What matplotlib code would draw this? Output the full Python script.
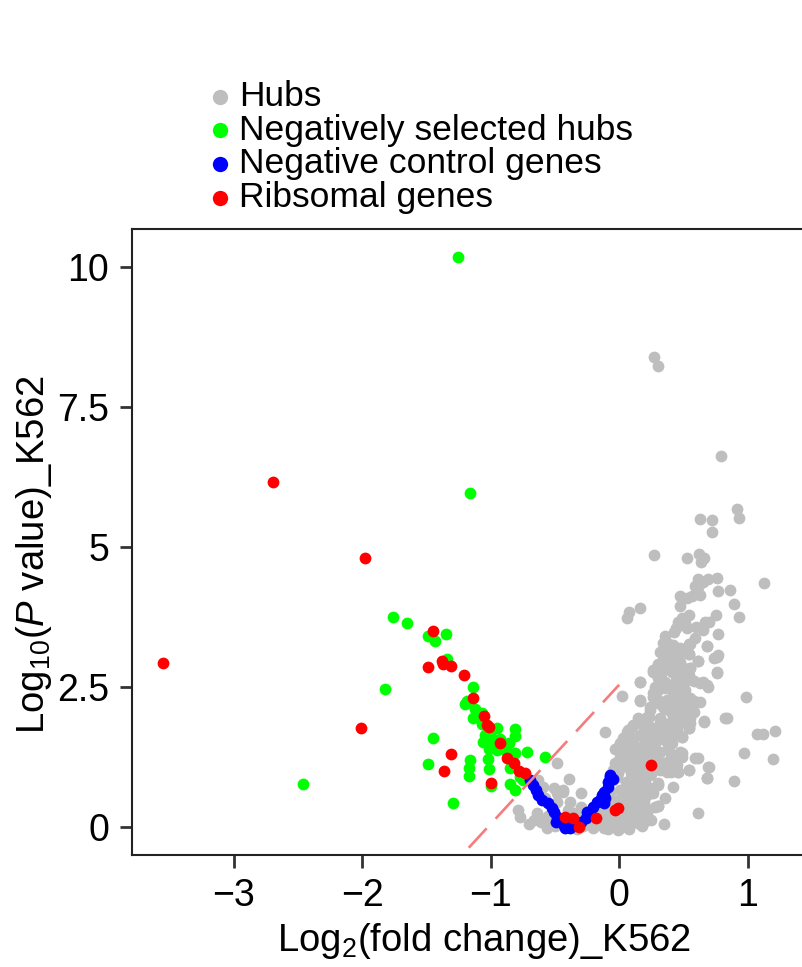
import numpy as np
import matplotlib
matplotlib.use("Agg")
import matplotlib.pyplot as plt

plt.rcParams['font.family'] = ['Liberation Sans', 'DejaVu Sans']
plt.rcParams['mathtext.fontset'] = 'custom'
plt.rcParams['mathtext.rm'] = 'Liberation Sans'
plt.rcParams['mathtext.it'] = 'Liberation Sans:italic'
plt.rcParams['mathtext.default'] = 'regular'

# hubs (grey), (log2 fold change, log10 p value)
hubs = [
    (0.27, 8.39), (0.30, 8.23), (0.79, 6.63), (0.92, 5.68), (0.93, 5.52), (0.63, 5.50),
    (0.72, 5.48), (0.72, 5.27), (0.27, 4.86), (0.53, 4.80), (0.62, 4.88), (0.66, 4.80),
    (0.64, 4.73), (1.13, 4.36), (0.76, 4.45), (0.61, 4.43), (0.69, 4.43), (0.65, 4.38),
    (0.61, 4.29), (0.59, 4.30), (0.77, 4.21), (0.86, 4.23), (0.63, 4.14), (0.47, 4.13),
    (0.53, 4.09), (0.57, 4.13), (0.47, 3.95), (0.89, 3.98), (0.16, 3.91), (0.08, 3.84),
    (0.06, 3.73), (0.75, 3.79), (0.93, 3.75), (0.54, 3.79), (0.49, 3.73), (0.46, 3.66),
    (0.51, 3.64), (0.44, 3.55), (0.53, 3.55), (0.60, 3.57), (0.67, 3.66), (0.70, 3.66),
    (0.65, 3.52), (0.77, 3.45), (0.43, 3.48), (0.36, 3.41), (0.59, 3.38), (0.54, 3.27),
    (0.68, 3.23), (0.34, 3.29), (0.40, 3.25), (0.44, 3.20), (0.47, 3.16), (0.32, 3.13),
    (0.38, 3.11), (0.54, 3.09), (0.46, 3.02), (0.77, 3.07), (0.74, 3.02), (0.61, 2.96),
    (0.34, 2.98), (0.30, 2.91), (0.41, 2.91), (0.49, 2.86), (0.55, 2.84), (0.28, 2.80),
    (0.33, 2.84), (0.76, 2.77), (0.26, 2.77), (0.30, 2.71), (0.47, 2.68), (0.53, 2.63),
    (0.63, 2.57), (0.69, 2.50), (0.16, 2.59), (0.02, 2.34), (0.33, 2.57), (0.40, 2.50),
    (0.30, 2.45), (0.47, 2.45), (0.51, 2.36), (0.26, 2.32), (0.37, 2.27), (0.16, 2.25),
    (0.58, 2.25), (0.63, 2.23), (0.99, 2.32), (0.30, 2.21), (0.45, 2.14), (0.53, 2.13),
    (0.24, 2.09), (0.40, 2.05), (0.54, 2.04), (0.66, 1.89), (0.84, 1.95), (0.22, 1.96),
    (0.32, 1.95), (0.45, 1.91), (0.55, 1.86), (0.15, 1.86), (0.10, 1.79), (0.24, 1.79),
    (0.37, 1.77), (0.54, 1.77), (0.06, 1.70), (0.19, 1.70), (0.30, 1.68), (0.45, 1.71),
    (0.49, 1.61), (-0.11, 1.70), (1.07, 1.66), (1.12, 1.66), (1.21, 1.71), (0.11, 1.59),
    (0.24, 1.59), (0.36, 1.55), (0.41, 1.50), (0.01, 1.50), (-0.03, 1.39), (0.07, 1.41),
    (0.16, 1.43), (0.26, 1.43), (0.32, 1.34), (0.47, 1.34), (0.49, 1.25), (0.59, 1.23),
    (0.97, 1.32), (1.20, 1.21), (0.01, 1.25), (0.11, 1.25), (0.19, 1.20), (0.30, 1.20),
    (0.37, 1.16), (0.38, 1.07), (0.70, 1.07), (0.02, 1.07), (0.11, 1.07), (0.19, 1.02),
    (0.32, 1.02), (0.40, 0.98), (0.46, 0.98), (0.54, 1.02), (0.68, 0.88), (0.89, 0.82),
    (-0.02, 0.89), (0.09, 0.88), (0.19, 0.88), (0.30, 0.75), (0.06, 0.75), (0.16, 0.71),
    (0.01, 0.66), (0.11, 0.61), (0.22, 0.57), (0.09, 0.43), (0.19, 0.45), (0.28, 0.36),
    (0.30, 0.38), (0.61, 0.25), (0.01, 0.30), (0.11, 0.25), (0.19, 0.21), (0.03, 0.09),
    (0.15, 0.07), (-0.07, 0.07), (0.01, -0.02), (-0.09, -0.04), (-0.48, 1.14), (-0.39, 0.86),
    (-0.30, 0.61), (-0.63, 0.84), (-0.59, 0.71), (-0.51, 0.70), (-0.44, 0.66), (-0.58, 0.52),
    (-0.48, 0.45), (-0.38, 0.45), (-0.79, 0.30), (-0.77, 0.18), (-0.64, 0.25), (-0.61, 0.09),
    (-0.36, 0.13), (-0.28, 0.18), (-0.23, 0.07), (-0.17, 0.18), (-0.59, 0.09), (-0.48, 0.61),
    (-0.44, 0.63), (-0.50, 0.02), (-0.45, 0.10), (-0.28, 0.02), (-0.20, -0.02), (-0.12, 0.12),
    (0.05, 0.18), (0.08, -0.03), (0.18, 0.02), (0.25, 0.12), (0.35, 0.05), (0.12, 0.38),
    (0.05, 0.52), (-0.05, 0.45), (0.25, 0.95), (0.42, 0.72), (0.36, 0.52), (0.40, 1.30),
    (0.44, 1.18), (0.50, 1.95), (0.58, 2.05), (0.42, 2.35), (0.36, 2.10), (0.20, 1.30),
    (0.28, 1.50), (0.12, 0.98), (-0.05, 1.02),
    (-0.55, 0.20), (-0.35, 0.25), (-0.30, 0.35), (-0.25, 0.05), (-0.15, 0.05), (-0.10, 0.25),
    (-0.05, 0.30), (-0.40, 0.30), (-0.52, 0.05), (-0.33, -0.03), (-0.18, 0.30),
    (-0.70, 0.05), (-0.66, 0.12), (-0.56, -0.01), (-0.02, 0.12), (0.10, 0.15), (0.22, 0.33),
]

# hubs in the dense core of the cloud
hubs_core = [
    (0.37, 3.29), (0.42, 3.25), (0.47, 3.20), (0.33, 3.11), (0.40, 3.07), (0.46, 3.04),
    (0.55, 3.27), (0.68, 3.23), (0.54, 3.09), (0.61, 2.96), (0.76, 3.04), (0.41, 2.93),
    (0.47, 2.95), (0.30, 2.89), (0.26, 2.80), (0.33, 2.77), (0.41, 2.77), (0.47, 2.84),
    (0.55, 2.84), (0.54, 2.71), (0.76, 2.75), (0.16, 2.59), (0.30, 2.66), (0.36, 2.59),
    (0.44, 2.63), (0.51, 2.63), (0.65, 2.59), (0.68, 2.54), (0.28, 2.50), (0.36, 2.48),
    (0.45, 2.45), (0.51, 2.45), (0.16, 2.27), (0.26, 2.39), (0.30, 2.27), (0.40, 2.23),
    (0.47, 2.27), (0.55, 2.30), (0.58, 2.23), (0.24, 2.14), (0.34, 2.14), (0.45, 2.09),
    (0.53, 2.05), (0.55, 1.95), (0.66, 1.88), (0.82, 1.95), (0.15, 1.95), (0.23, 1.96),
    (0.32, 1.91), (0.40, 1.88), (0.47, 1.86), (0.11, 1.82), (0.19, 1.79), (0.28, 1.77),
    (0.36, 1.73), (0.45, 1.73), (0.54, 1.77), (0.07, 1.73), (0.16, 1.64), (0.24, 1.61),
    (0.33, 1.61), (0.42, 1.64), (0.49, 1.61), (0.03, 1.59), (0.11, 1.52), (0.20, 1.50),
    (0.28, 1.50), (0.37, 1.52), (-0.02, 1.41), (0.06, 1.41), (0.14, 1.38), (0.23, 1.38),
    (0.30, 1.34), (0.46, 1.29), (0.49, 1.32), (0.02, 1.25), (0.10, 1.25), (0.18, 1.23),
    (0.26, 1.25), (0.38, 1.16), (0.45, 1.11), (0.54, 1.02), (0.61, 1.23), (-0.03, 1.14),
    (0.05, 1.11), (0.14, 1.11), (0.22, 1.07), (0.30, 1.05), (0.37, 0.98), (0.46, 0.98),
    (0.69, 1.07), (-0.01, 0.96), (0.09, 0.96), (0.16, 0.93), (0.24, 0.93), (0.30, 0.79),
    (0.68, 0.88), (-0.05, 0.84), (0.05, 0.80), (0.12, 0.79), (0.20, 0.79), (-0.07, 0.63),
    (0.02, 0.66), (0.11, 0.63), (0.19, 0.61), (0.26, 0.61), (-0.01, 0.48), (0.09, 0.45),
    (0.16, 0.43), (0.30, 0.38), (0.06, 0.30), (0.14, 0.27), (0.22, 0.25), (-0.07, 0.18),
    (0.03, 0.13), (0.11, 0.09), (0.19, 0.09), (-0.05, 0.04), (0.06, 0.00), (-0.12, -0.02),
    (-0.01, -0.05),
    (0.04, 0.36), (0.14, 0.52), (0.24, 0.70), (0.08, 1.18), (0.20, 1.15), (0.30, 1.60),
    (0.38, 1.40), (0.34, 1.85), (0.42, 2.00), (0.50, 2.20), (0.44, 2.55), (0.58, 2.60),
]

neg_selected = [
    (-1.25, 10.18), (-1.16, 5.96), (-2.46, 0.77), (-1.76, 3.75), (-1.65, 3.64), (-1.49, 3.41),
    (-1.43, 3.32), (-1.35, 3.45), (-1.34, 3.00), (-1.14, 2.50), (-1.82, 2.46), (-1.20, 2.20),
    (-1.18, 2.25), (-1.12, 2.11), (-1.07, 2.04), (-1.14, 1.95), (-1.07, 1.84), (-0.95, 1.77),
    (-0.81, 1.75), (-0.81, 1.63), (-1.04, 1.64), (-1.00, 1.61), (-1.03, 1.52), (-1.06, 1.52),
    (-0.98, 1.50), (-0.93, 1.57), (-0.86, 1.50), (-1.01, 1.39), (-0.95, 1.38), (-0.91, 1.41),
    (-0.87, 1.34), (-0.81, 1.32), (-0.72, 1.34), (-0.58, 1.25), (-0.85, 1.05), (-0.77, 0.89),
    (-0.75, 0.84), (-1.00, 0.73), (-0.85, 0.77), (-0.81, 0.66), (-1.45, 1.59), (-1.49, 1.13),
    (-1.16, 1.20), (-1.17, 1.05), (-1.17, 0.91), (-1.01, 1.04), (-1.29, 0.43), (-1.02, 1.21),
]

neg_control = [
    (-0.69, 0.84), (-0.67, 0.75), (-0.65, 0.66), (-0.63, 0.57), (-0.60, 0.48), (-0.55, 0.43),
    (-0.52, 0.34), (-0.51, 0.27), (-0.48, 0.18), (-0.46, 0.13), (-0.44, 0.05), (-0.40, 0.04),
    (-0.37, 0.07), (-0.33, 0.04), (-0.30, 0.09), (-0.26, 0.16), (-0.25, 0.27), (-0.23, 0.27),
    (-0.20, 0.36), (-0.17, 0.45), (-0.15, 0.48), (-0.13, 0.57), (-0.12, 0.63), (-0.09, 0.71),
    (-0.09, 0.80), (-0.07, 0.89), (-0.05, 0.86), (-0.07, 0.93), (-0.11, 0.52), (-0.12, 0.43),
    (-0.38, -0.02), (-0.49, 0.09), (-0.42, -0.02),
]

ribosomal = [
    (-2.69, 6.16), (-1.98, 4.80), (-3.55, 2.93), (-2.01, 1.77), (-1.45, 3.50), (-1.38, 2.96),
    (-1.37, 2.91), (-1.31, 2.88), (-1.49, 2.86), (-1.21, 2.71), (-1.14, 2.30), (-1.05, 1.98),
    (-1.03, 1.82), (-1.01, 1.79), (-0.93, 1.50), (-1.31, 1.30), (-1.36, 1.00), (-0.87, 1.23),
    (-0.82, 1.14), (-0.78, 1.00), (-0.73, 0.96), (-1.00, 0.79), (-0.42, 0.18), (-0.36, 0.16),
    (-0.31, 0.00), (-0.18, 0.16), (-0.03, 0.30), (-0.01, 0.34), (0.25, 1.11),
]

# dashed guide line end points
guide_x = [-1.17, 0.0]
guide_y = [-0.37, 2.54]

groups = [
    ("Hubs", hubs + hubs_core, "#BEBEBE"),
    ("Negatively selected hubs", neg_selected, "#00FF00"),
    ("Negative control genes", neg_control, "#0000FF"),
    ("Ribsomal genes", ribosomal, "#FF0000"),
]

fig = plt.figure(figsize=(8.02, 9.67), dpi=100)
ax = fig.add_axes([0.1646, 0.1158, 0.8398, 0.6474])

for label, pts, col in groups:
    arr = np.array(pts)
    ax.scatter(arr[:, 0], arr[:, 1], s=72, color=col, linewidths=0, label=label)

ax.plot(guide_x, guide_y, color="#F47C7C", lw=1.9, dashes=(10, 5), solid_capstyle="butt")

ax.set_xlim(-3.79, 1.45)
ax.set_ylim(-0.5, 10.68)
ax.set_xticks([-3, -2, -1, 0, 1])
ax.set_yticks([0, 2.5, 5, 7.5, 10])
ax.set_yticklabels(["0", "2.5", "5", "7.5", "10"])
ax.tick_params(labelsize=27, length=9, width=2.0, color="#333333", pad=7.5)

for sp in ax.spines.values():
    sp.set_linewidth(1.5)
    sp.set_color("#222222")

ax.set_xlabel("Log$_2$(fold change)_K562", fontsize=27.5, labelpad=5, x=0.523)
ax.set_ylabel("Log$_{10}$($\\mathit{P}$ value)_K562", fontsize=27.5, labelpad=2, y=0.479)

ax.legend(loc="upper left", bbox_to_anchor=(214 / 802, 1 - 80 / 967), bbox_transform=fig.transFigure,
          frameon=False, fontsize=25.5, handlelength=0.35, handletextpad=0.35, labelspacing=0.02,
          borderpad=0, borderaxespad=0, markerscale=1.3)

fig.savefig("out.png", dpi=100)
